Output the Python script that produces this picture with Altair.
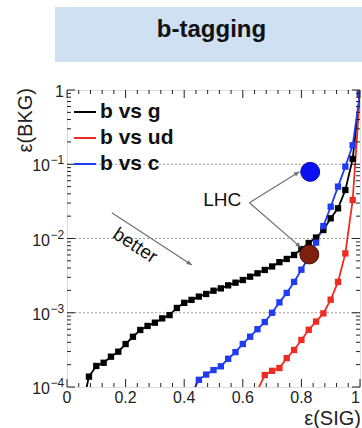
import math
import altair as alt
import pandas as pd

W, H = 293, 297

# ---------------- data ----------------
series_names = ["b vs g", "b vs ud", "b vs c"]
series_colors = ["#000000", "#ee2b22", "#1f3cf2"]

g_x = [0.05, 0.075, 0.1, 0.125, 0.15, 0.175, 0.2, 0.225, 0.25, 0.275, 0.3, 0.325,
       0.35, 0.375, 0.4, 0.425, 0.45, 0.475, 0.5, 0.525, 0.55, 0.575, 0.6, 0.625,
       0.65, 0.675, 0.7, 0.725, 0.75, 0.775, 0.8, 0.825, 0.85, 0.875, 0.9, 0.925,
       0.95, 0.975, 1.0]
g_y = [5.0e-5, 1.38e-4, 1.92e-4, 2.12e-4, 2.56e-4, 2.99e-4, 3.79e-4, 4.75e-4,
       5.86e-4, 6.64e-4, 7.35e-4, 8.4e-4, 9.3e-4, 1.16e-3, 1.36e-3, 1.49e-3,
       1.65e-3, 1.79e-3, 1.98e-3, 2.13e-3, 2.34e-3, 2.54e-3, 2.76e-3, 3.06e-3,
       3.4e-3, 3.77e-3, 4.2e-3, 4.8e-3, 5.3e-3, 6.0e-3, 7.2e-3, 8.7e-3, 0.0103,
       0.013, 0.0187, 0.0255, 0.045, 0.118, 0.9]

ud_x = [0.65, 0.675, 0.7, 0.725, 0.75, 0.775, 0.8, 0.825, 0.85, 0.875, 0.9,
        0.925, 0.95, 0.975, 1.0]
ud_y = [9e-5, 1.45e-4, 1.65e-4, 1.8e-4, 2.45e-4, 3.15e-4, 4.3e-4, 5.9e-4, 7.6e-4,
        9.8e-4, 1.5e-3, 2.6e-3, 6.3e-3, 0.033, 0.9]

c_x = [0.425, 0.45, 0.475, 0.5, 0.525, 0.55, 0.575, 0.6, 0.625, 0.65, 0.675, 0.7,
       0.725, 0.75, 0.775, 0.8, 0.825, 0.85, 0.875, 0.9, 0.925, 0.95, 0.975, 1.0]
c_y = [8e-5, 1.25e-4, 1.47e-4, 1.69e-4, 1.9e-4, 2.4e-4, 2.95e-4, 3.8e-4, 4.76e-4,
       6.0e-4, 7.5e-4, 1.0e-3, 1.38e-3, 1.85e-3, 2.6e-3, 3.8e-3, 5.6e-3, 8.8e-3,
       0.0147, 0.0268, 0.050, 0.093, 0.18, 0.9]

# LHC working points
lhc_x = [0.83, 0.827]
lhc_y = [0.079, 0.0061]
lhc_fill = ["#0a10f2", "#7f1f0e"]
lhc_stroke = ["#0a0a90", "#4a120a"]

# annotation arrows (data coordinates)
arr_x1 = [0.153, 0.6226, 0.6226]
arr_y1 = [0.0222, 0.0303, 0.0303]
arr_x2 = [0.426, 0.793, 0.798]
arr_y2 = [0.0044, 0.0794, 0.0076]

ann_text = ["LHC", "better"]
ann_x = [0.5295, 0.233]
ann_y = [0.033, 0.00805]
ann_angle = [0, 33]

x_major = [0, 0.2, 0.4, 0.6, 0.8, 1.0]
x_labels = ["0", "0.2", "0.4", "0.6", "0.8", "1"]
x_minor = [0.04, 0.08, 0.12, 0.16, 0.24, 0.28, 0.32, 0.36, 0.44, 0.48, 0.52, 0.56,
           0.64, 0.68, 0.72, 0.76, 0.84, 0.88, 0.92, 0.96]
y_major = [1e-4, 1e-3, 1e-2, 1e-1, 1.0]
y_minor = [k * 10.0 ** d for d in (-4, -3, -2, -1) for k in range(2, 10)]
y_grid = [1e-3, 1e-2, 1e-1]
y_lab_vals = [1e-1, 1e-2, 1e-3, 1e-4]
y_lab_exp = ["\u22121", "\u22122", "\u22123", "\u22124"]

title_text = "b-tagging"
x_title = "\u03b5(SIG)"
y_title = "\u03b5(BKG)"

# ---------------- tables ----------------
curves = pd.concat([
    pd.DataFrame({"x": g_x, "y": g_y, "series": series_names[0]}),
    pd.DataFrame({"x": ud_x, "y": ud_y, "series": series_names[1]}),
    pd.DataFrame({"x": c_x, "y": c_y, "series": series_names[2]}),
], ignore_index=True)

def to_px(x, y):
    return x * W, H * (0 - math.log10(y)) / 4.0

angles = []
for a, b, c, d in zip(arr_x1, arr_y1, arr_x2, arr_y2):
    p1, q1 = to_px(a, b)
    p2, q2 = to_px(c, d)
    angles.append(math.degrees(math.atan2(p2 - p1, -(q2 - q1))) % 360)

arrows = pd.DataFrame({"x": arr_x1, "y": arr_y1, "x2": arr_x2, "y2": arr_y2,
                       "ang": angles})
lhc = pd.DataFrame({"x": lhc_x, "y": lhc_y, "f": lhc_fill, "s": lhc_stroke})
ann = pd.DataFrame({"t": ann_text, "x": ann_x, "y": ann_y, "a": ann_angle})

FONT = "Liberation Sans"
xs = alt.Scale(domain=[0, 1], nice=False, zero=False)
ys = alt.Scale(type="log", domain=[1e-4, 1], nice=False)
cscale = alt.Scale(domain=series_names, range=series_colors)
one = pd.DataFrame({"k": [0]})

banner = alt.Chart(one).mark_rect(color="#cfe0f3").encode(
    x=alt.value(-12), x2=alt.value(W + 2), y=alt.value(-83), y2=alt.value(-28))
title = alt.Chart(pd.DataFrame({"t": [title_text]})).mark_text(
    fontSize=24, font=FONT, fontWeight="bold", color="#111", align="center",
    baseline="alphabetic").encode(x=alt.value(W / 2 - 2), y=alt.value(-53), text="t:N")

grid = alt.Chart(pd.DataFrame({"v": y_grid})).mark_rule(
    color="#9a9a9a", strokeWidth=1, strokeDash=[2, 2]).encode(
    y=alt.Y("v:Q", scale=ys, axis=None), x=alt.value(0), x2=alt.value(W))

lines = alt.Chart(curves).mark_line(strokeWidth=1.8, clip=True).encode(
    x=alt.X("x:Q", scale=xs, axis=None),
    y=alt.Y("y:Q", scale=ys, axis=None),
    color=alt.Color("series:N", scale=cscale, sort=series_names, legend=alt.Legend(
        title=None, orient="none", legendX=6, legendY=10, symbolType="stroke",
        symbolSize=484, symbolStrokeWidth=2, labelFontSize=21, labelFont=FONT,
        labelFontWeight="bold", labelColor="#111", rowPadding=4, labelOffset=3)),
    order="x:Q",
)

points = alt.Chart(curves).mark_point(shape="square", filled=True, size=40,
                                      opacity=1, clip=True).encode(
    x=alt.X("x:Q", scale=xs, axis=None),
    y=alt.Y("y:Q", scale=ys, axis=None),
    fill=alt.Fill("series:N", scale=cscale, legend=None),
)

def rule_layer(vals, orient, length):
    d = pd.DataFrame({"v": vals})
    m = alt.Chart(d).mark_rule(color="#222", strokeWidth=1)
    if orient == "left":
        return m.encode(y=alt.Y("v:Q", scale=ys, axis=None), x=alt.value(0), x2=alt.value(length))
    if orient == "right":
        return m.encode(y=alt.Y("v:Q", scale=ys, axis=None), x=alt.value(W - length), x2=alt.value(W))
    if orient == "bottom":
        return m.encode(x=alt.X("v:Q", scale=xs, axis=None), y=alt.value(H - length), y2=alt.value(H))
    return m.encode(x=alt.X("v:Q", scale=xs, axis=None), y=alt.value(0), y2=alt.value(length))

ticks = [rule_layer(y_major, "left", 8), rule_layer(y_minor, "left", 4),
         rule_layer(y_major, "right", 8), rule_layer(y_minor, "right", 4),
         rule_layer(x_major, "bottom", 8), rule_layer(x_minor, "bottom", 4),
         rule_layer(x_major, "top", 8), rule_layer(x_minor, "top", 4)]

xlab_df = pd.DataFrame({"v": x_major, "t": x_labels})
xlab = alt.Chart(xlab_df[xlab_df.v < 1]).mark_text(
    align="center", baseline="top", fontSize=16, font=FONT, color="#222").encode(
    x=alt.X("v:Q", scale=xs, axis=None), y=alt.value(H + 3), text="t:N")
xlab_last = alt.Chart(xlab_df[xlab_df.v >= 1]).mark_text(
    align="right", baseline="top", fontSize=16, font=FONT, color="#222").encode(
    x=alt.X("v:Q", scale=xs, axis=None), y=alt.value(H + 3), text="t:N")

ylab_df = pd.DataFrame({"v": y_lab_vals, "b": ["10"] * 4, "e": y_lab_exp})
ylab_base = alt.Chart(ylab_df).mark_text(align="right", baseline="middle", fontSize=16,
                                         font=FONT, color="#222", dy=2).encode(
    y=alt.Y("v:Q", scale=ys, axis=None), x=alt.value(-17), text="b:N")
ylab_exp = alt.Chart(ylab_df).mark_text(align="left", baseline="middle", fontSize=12,
                                        font=FONT, color="#222", dy=-4).encode(
    y=alt.Y("v:Q", scale=ys, axis=None), x=alt.value(-16.5), text="e:N")
ylab_one = alt.Chart(pd.DataFrame({"v": [1.0], "t": ["1"]})).mark_text(
    align="right", baseline="middle", fontSize=16, font=FONT, color="#222", dy=2).encode(
    y=alt.Y("v:Q", scale=ys, axis=None), x=alt.value(-3), text="t:N")

xtitle = alt.Chart(pd.DataFrame({"t": [x_title]})).mark_text(
    align="right", baseline="alphabetic", fontSize=20, font=FONT, color="#222").encode(
    x=alt.value(W + 1), y=alt.value(H + 38), text="t:N")
ytitle = alt.Chart(pd.DataFrame({"t": [y_title]})).mark_text(
    align="right", baseline="middle", fontSize=20, font=FONT, color="#222",
    angle=270).encode(x=alt.value(-41), y=alt.value(-2), text="t:N")

arrow_lines = alt.Chart(arrows).mark_rule(color="#707070", strokeWidth=1.2).encode(
    x=alt.X("x:Q", scale=xs, axis=None), y=alt.Y("y:Q", scale=ys, axis=None),
    x2="x2:Q", y2="y2:Q")
arrow_heads = alt.Chart(arrows).mark_point(
    shape="M0,0L-0.45,1L0.45,1Z", filled=True, size=110, color="#707070", opacity=1).encode(
    x=alt.X("x2:Q", scale=xs, axis=None), y=alt.Y("y2:Q", scale=ys, axis=None),
    angle=alt.Angle("ang:Q", scale=None))

lhc_pts = alt.Chart(lhc).mark_point(shape="circle", filled=True, size=360, opacity=1,
                                    strokeWidth=1).encode(
    x=alt.X("x:Q", scale=xs, axis=None), y=alt.Y("y:Q", scale=ys, axis=None),
    fill=alt.Fill("f:N", scale=None), stroke=alt.Stroke("s:N", scale=None))

ann_txt = alt.Chart(ann).mark_text(fontSize=19, font=FONT, color="#111",
                                   align="center", baseline="middle").encode(
    x=alt.X("x:Q", scale=xs, axis=None), y=alt.Y("y:Q", scale=ys, axis=None),
    text="t:N", angle=alt.Angle("a:Q", scale=None))

chart = alt.layer(
    banner, title, grid, lines, points, *ticks, xlab, xlab_last, ylab_base, ylab_exp,
    ylab_one, xtitle, ytitle, arrow_lines, arrow_heads, lhc_pts, ann_txt,
).properties(
    width=W, height=H,
    autosize=alt.AutoSizeParams(type="none"),
    padding={"left": 67, "top": 90, "right": 2, "bottom": 41},
).configure_view(stroke="#222", strokeWidth=1).configure(background="white")

chart.save("out.html", embed_options={"renderer": "svg", "actions": False})
